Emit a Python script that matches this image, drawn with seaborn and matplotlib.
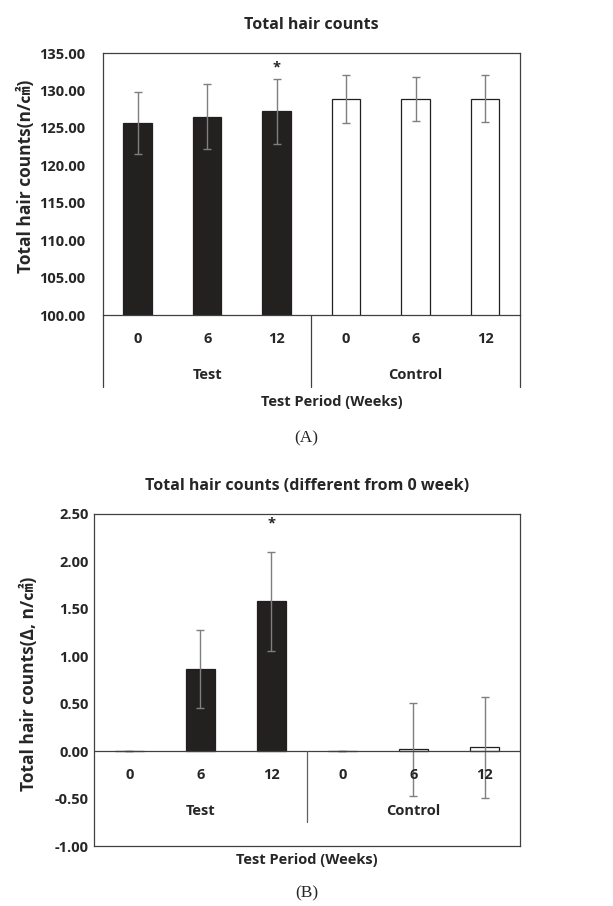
import matplotlib
matplotlib.use("Agg")
import matplotlib.pyplot as plt
import seaborn as sns
import pandas as pd
import numpy as np

# data
weeks = ["0", "6", "12", "0", "6", "12"]
groups = ["Test", "Test", "Test", "Control", "Control", "Control"]
total_mean = [125.65, 126.5, 127.2, 128.85, 128.9, 128.9]
total_err = [4.2, 4.35, 4.3, 3.15, 2.95, 3.1]
delta_mean = [0.0, 0.87, 1.58, 0.0, 0.02, 0.04]
delta_err = [0.0, 0.41, 0.52, 0.0, 0.49, 0.53]
star_slot = 2

sns.set_style("white")
plt.rcParams['font.family'] = ['Open Sans', 'Noto Sans CJK KR', 'DejaVu Sans']
plt.rcParams['font.weight'] = 'bold'

BAR = "#231f20"
ERR = "#7f7f7f"
fs = 10.5
fs_lab = 12.5

df = pd.DataFrame({
    "slot": [f"{g} {w}" for g, w in zip(groups, weeks)],
    "group": groups,
    "total": total_mean,
    "delta": delta_mean,
})

fig = plt.figure(figsize=(6.13, 9.06), dpi=100)
axA = fig.add_axes([0.168, 0.6523, 0.680, 0.2892])
axB = fig.add_axes([0.1533, 0.0662, 0.695, 0.3665])


def draw_bars(ax, col, err):
    sns.barplot(data=df, x="slot", y=col, hue="group",
                palette={"Test": BAR, "Control": "white"},
                edgecolor=BAR, linewidth=0.9, width=0.41, dodge=False,
                legend=False, ax=ax)
    xs = np.arange(len(df))
    ax.errorbar(xs, df[col], yerr=err, fmt="none", ecolor=ERR,
                elinewidth=1.0, capsize=3, capthick=1.0)
    ax.set_xlim(-0.5, len(df) - 0.5)
    for s in ax.spines.values():
        s.set_color("#404040")
        s.set_linewidth(0.9)
    ax.tick_params(axis="both", length=0)
    ax.set_xlabel("")
    ax.set_xticks([])


# ---- panel A
draw_bars(axA, "total", total_err)
axA.set_ylim(100, 135)
axA.set_yticks(np.arange(100, 136, 5))
axA.set_yticklabels([f"{v:.2f}" for v in np.arange(100, 136, 5)], fontsize=fs, fontweight="bold")
axA.tick_params(axis="y", pad=13)
axA.set_ylabel("Total hair counts(n/㎠)", fontsize=fs_lab, fontweight="bold")
axA.yaxis.set_label_coords(-0.163, 0.531)
axA.set_title("Total hair counts", fontsize=fs + 1, fontweight="bold", pad=17)
trA = axA.get_xaxis_transform()
for i, w in enumerate(weeks):
    axA.text(i, -0.092, w, transform=trA, ha="center", va="center", fontsize=fs, fontweight="bold")
axA.text(1, -0.229, "Test", transform=trA, ha="center", va="center", fontsize=fs, fontweight="bold")
axA.text(4, -0.229, "Control", transform=trA, ha="center", va="center", fontsize=fs, fontweight="bold")
for xv in [-0.5, 2.5, 5.5]:
    axA.plot([xv, xv], [0, -0.275], transform=trA, color="#404040", lw=0.9, clip_on=False)
axA.text(star_slot, total_mean[star_slot] + total_err[star_slot] + 1.5, "*",
         ha="center", va="center", fontsize=fs, fontweight="bold")
fig.text(0.5417, 1 - 402 / 906, "Test Period (Weeks)", ha="center", va="center",
         fontsize=fs, fontweight="bold")
fig.text(0.5, 1 - 438 / 906, "(A)", ha="center", va="center", fontsize=12.5,
         family="Liberation Serif", fontweight="normal")

# ---- panel B
draw_bars(axB, "delta", delta_err)
axB.set_ylim(-1.0, 2.5)
axB.set_yticks(np.arange(-1.0, 2.51, 0.5))
axB.set_yticklabels([f"{v:.2f}" for v in np.arange(-1.0, 2.51, 0.5)], fontsize=fs, fontweight="bold")
axB.tick_params(axis="y", pad=4)
axB.set_ylabel("Total hair counts(Δ, n/㎠)", fontsize=fs_lab, fontweight="bold")
axB.yaxis.set_label_coords(-0.131, 0.488)
axB.set_title("Total hair counts (different from 0 week)", fontsize=fs + 1,
              fontweight="bold", pad=17)
axB.axhline(0, color="#404040", lw=0.9)
for i, w in enumerate(weeks):
    axB.text(i, -0.25, w, ha="center", va="center", fontsize=fs, fontweight="bold")
axB.text(1, -0.63, "Test", ha="center", va="center", fontsize=fs, fontweight="bold")
axB.text(4, -0.63, "Control", ha="center", va="center", fontsize=fs, fontweight="bold")
axB.plot([2.5, 2.5], [0, -0.75], color="#606060", lw=0.9)
axB.text(star_slot, delta_mean[star_slot] + delta_err[star_slot] + 0.3, "*",
         ha="center", va="center", fontsize=fs, fontweight="bold")
axB.set_xlabel("Test Period (Weeks)", fontsize=fs, fontweight="bold", labelpad=5)
fig.text(0.5, 1 - 893 / 906, "(B)", ha="center", va="center", fontsize=12.5,
         family="Liberation Serif", fontweight="normal")

fig.savefig("out.png", dpi=100)
